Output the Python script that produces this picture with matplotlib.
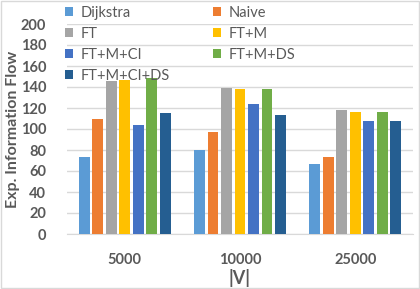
import numpy as np
import matplotlib.pyplot as plt
from matplotlib.patches import Rectangle

plt.rcParams['font.family'] = ['Lato', 'DejaVu Sans']

categories = ['5000', '10000', '25000']
series_names = ['Dijkstra', 'Naive', 'FT', 'FT+M', 'FT+M+CI', 'FT+M+DS', 'FT+M+CI+DS']
dijkstra = [73, 80, 67]
naive = [110, 97, 73]
ft = [146, 139, 118]
ft_m = [147, 138, 116]
ft_m_ci = [104, 124, 108]
ft_m_ds = [149, 138, 116]
ft_m_ci_ds = [115, 113, 108]
colors = ['#5B9BD5', '#ED7D31', '#A5A5A5', '#FFC000', '#4472C4', '#70AD47', '#255E91']
yticks = [0, 20, 40, 60, 80, 100, 120, 140, 160, 180, 200]

gray = '#595959'
grid = '#D9D9D9'

fig = plt.figure(figsize=(4.2, 2.89), dpi=100)
ax = fig.add_axes([67 / 420, 1 - 234 / 289, 346 / 420, 210 / 289])

all_series = [dijkstra, naive, ft, ft_m, ft_m_ci, ft_m_ds, ft_m_ci_ds]
x = np.arange(len(categories))
step = 0.117
width = 0.093
handles = []
for i, (vals, name, c) in enumerate(zip(all_series, series_names, colors)):
    offs = (i - 3) * step
    b = ax.bar(x + offs, vals, width, color=c, label=name, zorder=3)
    handles.append(b)

ax.set_xlim(-0.5, 2.5)
ax.set_ylim(0, 200)
ax.set_yticks(yticks)
ax.set_xticks(x)
ax.set_xticklabels(categories)
ax.grid(axis='y', color=grid, lw=1, zorder=0)
for s in ['top', 'right', 'left']:
    ax.spines[s].set_visible(False)
ax.spines['bottom'].set_color(grid)
ax.tick_params(axis='both', length=0, colors=gray, labelsize=10.5)
ax.tick_params(axis='y', pad=15)
ax.tick_params(axis='x', pad=14)
for t in ax.get_xticklabels() + ax.get_yticklabels():
    t.set_fontweight('bold')

ax.set_ylabel('Exp. Information Flow', fontsize=11.5, fontweight='bold', color=gray)
ax.yaxis.set_label_coords(-0.135, 0.5)
ax.set_xlabel('|V|', fontsize=13, fontweight='bold', color=gray, labelpad=1)

# legend fills column first, reorder so it reads row by row
order = [0, 2, 4, 6, 1, 3, 5]
leg = ax.legend([handles[k] for k in order], [series_names[k] for k in order],
                ncol=2, loc='upper left', bbox_to_anchor=(59 / 420, 1.0),
                bbox_transform=fig.transFigure, frameon=False, fontsize=10.5,
                handlelength=0.55, handleheight=0.55, handletextpad=0.5,
                labelspacing=0.48, columnspacing=3.0, borderaxespad=0)
for t in leg.get_texts():
    t.set_color(gray)

fig.patches.append(Rectangle((0.002, 0.003), 0.995, 0.994, transform=fig.transFigure,
                             fill=False, edgecolor=grid, lw=1))

fig.savefig('out.png', dpi=100)
